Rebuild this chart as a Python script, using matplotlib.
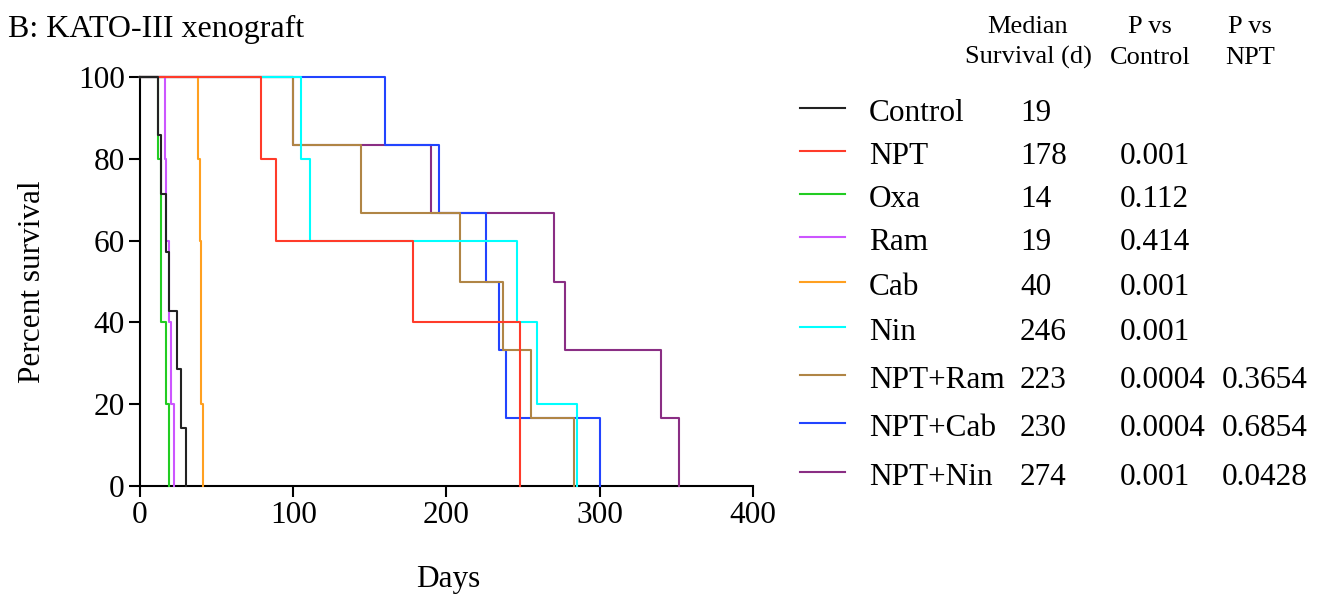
import matplotlib
matplotlib.use("Agg")
import matplotlib.pyplot as plt
from matplotlib.lines import Line2D

plt.rcParams['font.family'] = ['Liberation Serif', 'DejaVu Serif']

# step curves: day of each drop and percent survival after it
groups = ["Control", "NPT", "Oxa", "Ram", "Cab", "Nin", "NPT+Ram", "NPT+Cab", "NPT+Nin"]
colors = ["#222222", "#ff3b2a", "#22cc22", "#cc55ff", "#ffa020", "#00ffff",
          "#b08545", "#2244ff", "#8a2e84"]

control_days = [0, 12, 14, 17, 19, 24, 27, 30]
control_surv = [100, 85.7, 71.4, 57.1, 42.9, 28.6, 14.3, 0]
npt_days = [0, 79, 89, 178, 248]
npt_surv = [100, 80, 60, 40, 0]
oxa_days = [0, 12, 14, 17, 19]
oxa_surv = [100, 80, 40, 20, 0]
ram_days = [0, 16, 17, 19, 20, 22]
ram_surv = [100, 80, 60, 40, 20, 0]
cab_days = [0, 38, 39, 40, 41]
cab_surv = [100, 80, 60, 20, 0]
nin_days = [0, 105, 111, 246, 259, 285]
nin_surv = [100, 80, 60, 40, 20, 0]
nptram_days = [0, 100, 144, 209, 237, 255, 283]
nptram_surv = [100, 83.3, 66.7, 50, 33.3, 16.7, 0]
nptcab_days = [0, 160, 195, 226, 234, 239, 300]
nptcab_surv = [100, 83.3, 66.7, 50, 33.3, 16.7, 0]
nptnin_days = [0, 100, 190, 270, 277, 340, 352]
nptnin_surv = [100, 83.3, 66.7, 50, 33.3, 16.7, 0]

all_days = [control_days, npt_days, oxa_days, ram_days, cab_days, nin_days,
            nptram_days, nptcab_days, nptnin_days]
all_surv = [control_surv, npt_surv, oxa_surv, ram_surv, cab_surv, nin_surv,
            nptram_surv, nptcab_surv, nptnin_surv]

medians = ["19", "178", "14", "19", "40", "246", "223", "230", "274"]
p_control = ["", "0.001", "0.112", "0.414", "0.001", "0.001", "0.0004", "0.0004", "0.001"]
p_npt = ["", "", "", "", "", "", "0.3654", "0.6854", "0.0428"]

W, H = 1318, 598
fig = plt.figure(figsize=(W / 100, H / 100), dpi=100)

def fx(x):
    return x / W

def fy(y):
    return 1 - y / H

ax = fig.add_axes([fx(140), fy(486), (753 - 140) / W, (486 - 77) / H])

n = len(groups)
for i in range(n):
    # earlier groups sit on top, like the original
    ax.step(all_days[i], all_surv[i], where='post', color=colors[i], lw=1.5,
            zorder=10 + n - i, clip_on=False)

ax.set_xlim(0, 400)
ax.set_ylim(0, 100)
ax.set_xticks([0, 100, 200, 300, 400])
ax.set_yticks([0, 20, 40, 60, 80, 100])
for s in ['top', 'right']:
    ax.spines[s].set_visible(False)
for s in ['left', 'bottom']:
    ax.spines[s].set_linewidth(1.5)
ax.tick_params(direction='out', length=8, width=1.5, labelsize=22.5, pad=3)

fig.text(fx(33), fy(282), "Percent survival", rotation=90, fontsize=22.5,
         ha='center', va='center')
fig.text(fx(448), fy(580), "Days", fontsize=22.5, ha='center', va='center')
fig.text(fx(8), fy(37), "B: KATO-III xenograft", fontsize=23, ha='left', va='baseline')

# table-style legend
hdr = 19
fig.text(fx(1028), fy(33), "Median", fontsize=hdr, ha='center', va='baseline')
fig.text(fx(1028), fy(64), "Survival (d)", fontsize=hdr, ha='center', va='baseline')
fig.text(fx(1150), fy(33), "P vs", fontsize=hdr, ha='center', va='baseline')
fig.text(fx(1150), fy(64), "Control", fontsize=hdr, ha='center', va='baseline')
fig.text(fx(1250), fy(33), "P vs", fontsize=hdr, ha='center', va='baseline')
fig.text(fx(1250), fy(64), "NPT", fontsize=hdr, ha='center', va='baseline')

row_y = [108, 151, 194, 237, 282, 327, 375, 423, 472]
for i in range(n):
    y = row_y[i]
    fig.add_artist(Line2D([fx(800), fx(845)], [fy(y), fy(y)], color=colors[i], lw=1.5))
    base = fy(y + 13)
    fig.text(fx(869), base, groups[i], fontsize=22.5, va='baseline')
    fig.text(fx(1020), base, medians[i], fontsize=22.5, va='baseline')
    fig.text(fx(1120), base, p_control[i], fontsize=22.5, va='baseline')
    fig.text(fx(1222), base, p_npt[i], fontsize=22.5, va='baseline')

fig.savefig("out.png", dpi=100)
